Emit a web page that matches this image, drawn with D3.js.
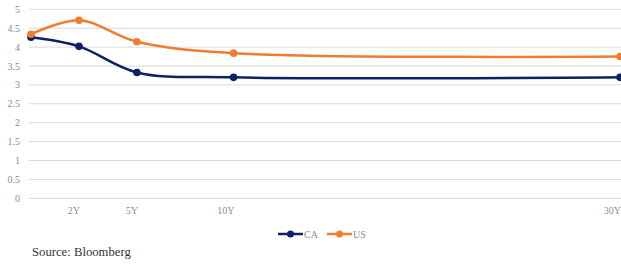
<!DOCTYPE html>
<html>
<head>
<meta charset="utf-8">
<script src="https://cdn.jsdelivr.net/npm/d3@7"></script>
<style>
  body { margin: 0; background: #fff; }
  text { font-family: "Liberation Serif", "DejaVu Serif", serif; }
</style>
</head>
<body>
<div id="chart"></div>
<script>
const tenorYears = [0.25, 2, 5, 10, 30];
const tenorLabels = ["", "2Y", "5Y", "10Y", "30Y"];
const caYields = [4.26, 4.02, 3.33, 3.2, 3.2];
const usYields = [4.34, 4.71, 4.14, 3.84, 3.75];
const yTicks = [0, 0.5, 1, 1.5, 2, 2.5, 3, 3.5, 4, 4.5, 5];

const W = 621, H = 266;
const svg = d3.select("#chart").append("svg").attr("width", W).attr("height", H);

// tenor axis is not quite linear at the short end
const x = d3.scaleLinear().domain([0.25, 2, 30]).range([31, 79, 620]);
const y = d3.scaleLinear().domain([0, 5]).range([198.3, 9.3]);

const grid = svg.append("g");
grid.selectAll("line").data(yTicks).join("line")
  .attr("x1", 29).attr("x2", W)
  .attr("y1", (d) => y(d)).attr("y2", (d) => y(d))
  .attr("stroke", "#d9d9d9").attr("stroke-width", 1);

svg.append("g").selectAll("text").data(yTicks).join("text")
  .attr("x", 20).attr("y", (d) => y(d) + 3.5)
  .attr("text-anchor", "end")
  .attr("font-size", 10).attr("fill", "#8c8c8c")
  .text((d) => d);

svg.append("g").selectAll("text").data(tenorYears).join("text")
  .attr("x", (d) => x(d) + 1).attr("y", 214)
  .attr("text-anchor", "end")
  .attr("font-size", 10).attr("fill", "#8c8c8c")
  .text((d, i) => tenorLabels[i]);

const series = [
  { name: "CA", values: caYields, color: "#0c2264" },
  { name: "US", values: usYields, color: "#ed7d31" },
];

const line = d3.line()
  .x((d, i) => x(tenorYears[i]))
  .y((d) => y(d))
  .curve(d3.curveCatmullRom.alpha(0.5));

series.forEach((s) => {
  svg.append("path").datum(s.values)
    .attr("d", line).attr("fill", "none")
    .attr("stroke", s.color).attr("stroke-width", 2.5);
  svg.append("g").selectAll("circle").data(s.values).join("circle")
    .attr("cx", (d, i) => x(tenorYears[i])).attr("cy", (d) => y(d))
    .attr("r", 3.8).attr("fill", s.color);
});

// legend
const legend = svg.append("g").attr("transform", "translate(278,234)");
series.forEach((s, i) => {
  const g = legend.append("g").attr("transform", `translate(${i * 49},0)`);
  g.append("line").attr("x1", 0).attr("x2", 25).attr("y1", 0).attr("y2", 0)
    .attr("stroke", s.color).attr("stroke-width", 2.5);
  g.append("circle").attr("cx", 12.5).attr("cy", 0).attr("r", 3.5).attr("fill", s.color);
  g.append("text").attr("x", 26).attr("y", 3.5)
    .attr("font-size", 10).attr("fill", "#8c8c8c").text(s.name);
});

svg.append("text").attr("x", 32).attr("y", 256)
  .attr("font-size", 12.7).attr("fill", "#333")
  .text("Source: Bloomberg");
</script>
</body>
</html>
